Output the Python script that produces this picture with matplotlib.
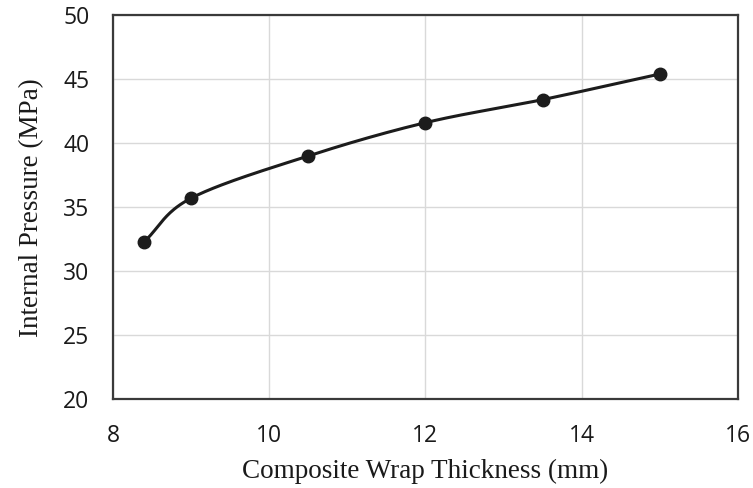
import numpy as np
import matplotlib
matplotlib.use('Agg')
import matplotlib.pyplot as plt

# data
thickness = [8.4, 9.0, 10.5, 12.0, 13.5, 15.0]
pressure = [32.3, 35.7, 39.0, 41.6, 43.4, 45.4]
x_ticks = [8, 10, 12, 14, 16]
y_ticks = [20, 25, 30, 35, 40, 45, 50]


def smooth_curve(x, y, n=40):
    # Catmull-Rom through the points, like Excel's smoothed line
    x = np.asarray(x, float)
    y = np.asarray(y, float)
    px = np.concatenate([[2 * x[0] - x[1]], x, [2 * x[-1] - x[-2]]])
    py = np.concatenate([[2 * y[0] - y[1]], y, [2 * y[-1] - y[-2]]])
    xs, ys = [], []
    t = np.linspace(0, 1, n)
    for i in range(1, len(px) - 2):
        for p, out in ((px, xs), (py, ys)):
            p0, p1, p2, p3 = p[i - 1], p[i], p[i + 1], p[i + 2]
            out.append(0.5 * ((2 * p1) + (-p0 + p2) * t +
                              (2 * p0 - 5 * p1 + 4 * p2 - p3) * t ** 2 +
                              (-p0 + 3 * p1 - 3 * p2 + p3) * t ** 3))
    return np.concatenate(xs), np.concatenate(ys)


fig = plt.figure(figsize=(7.53, 4.88), dpi=100)
ax = fig.add_axes([0.150, 0.182, 0.830, 0.787])

sx, sy = smooth_curve(thickness, pressure)
ax.plot(sx, sy, color='#1c1c1c', lw=2.2, zorder=3)
ax.plot(thickness, pressure, 'o', color='#1c1c1c', ms=9, zorder=4)

ax.set_xlim(8, 16)
ax.set_ylim(20, 50)
ax.set_xticks(x_ticks)
ax.set_yticks(y_ticks)
ax.grid(True, color='#d9d9d9', lw=1.0)
ax.set_axisbelow(True)
for s in ax.spines.values():
    s.set_color('#3a3a3a')
    s.set_linewidth(1.6)
ax.tick_params(axis='x', length=0, pad=18, labelsize=16.5)
ax.tick_params(axis='y', length=0, pad=17, labelsize=16.5)
for lab in ax.get_xticklabels() + ax.get_yticklabels():
    lab.set_fontfamily('Open Sans')
    lab.set_color('#1a1a1a')

ax.set_xlabel('Composite Wrap Thickness (mm)', family='Liberation Serif',
              fontsize=19.5, color='#1a1a1a', labelpad=8)
ax.set_ylabel('Internal Pressure (MPa)', family='Liberation Serif',
              fontsize=19.5, color='#1a1a1a', labelpad=14)

plt.savefig('out.png', dpi=100)
